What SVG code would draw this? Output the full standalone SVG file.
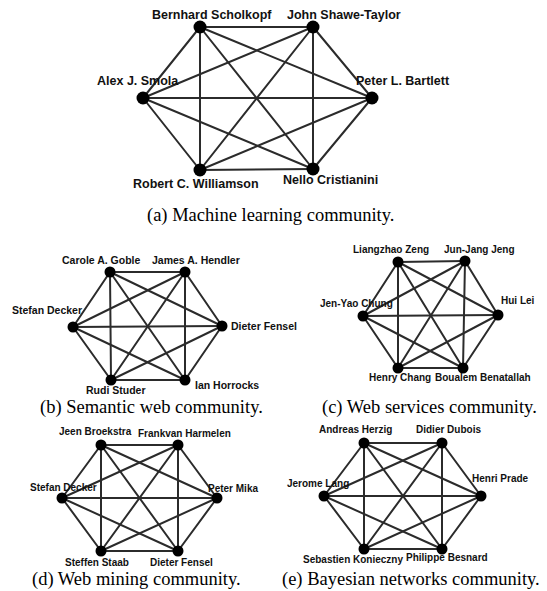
<svg xmlns="http://www.w3.org/2000/svg" width="547" height="591" viewBox="0 0 547 591">
<style>
.e line{stroke:#2b2b2b;stroke-width:2;stroke-linecap:round}
.n{fill:#000}
.lb{font-family:"Liberation Sans",Arial,sans-serif;font-weight:bold;fill:#111}
.la{font-size:12.5px}
.ls{font-size:10.5px}
.lt{font-size:10px}
.cap{font-family:"Liberation Serif","Times New Roman",serif;font-size:18.5px;fill:#000}
</style>
<rect width="547" height="591" fill="#fff"/>

<!-- Graph (a) -->
<g id="edges-a" class="e">
<line x1="200" y1="27" x2="313" y2="27"/>
<line x1="200" y1="27" x2="143" y2="98"/>
<line x1="200" y1="27" x2="372" y2="98"/>
<line x1="200" y1="27" x2="200" y2="170"/>
<line x1="200" y1="27" x2="313" y2="169"/>
<line x1="313" y1="27" x2="143" y2="98"/>
<line x1="313" y1="27" x2="372" y2="98"/>
<line x1="313" y1="27" x2="200" y2="170"/>
<line x1="313" y1="27" x2="313" y2="169"/>
<line x1="143" y1="98" x2="372" y2="98"/>
<line x1="143" y1="98" x2="200" y2="170"/>
<line x1="143" y1="98" x2="313" y2="169"/>
<line x1="372" y1="98" x2="200" y2="170"/>
<line x1="372" y1="98" x2="313" y2="169"/>
<line x1="200" y1="170" x2="313" y2="169"/>
</g>
<g id="a-scholkopf"><circle class="n" cx="200" cy="27" r="6.5"/><text class="lb la" x="152" y="19">Bernhard Scholkopf</text></g>
<g id="a-shawe-taylor"><circle class="n" cx="313" cy="27" r="6.5"/><text class="lb la" x="287" y="19">John Shawe-Taylor</text></g>
<g id="a-smola"><circle class="n" cx="143" cy="98" r="6.5"/><text class="lb la" x="97" y="85">Alex J. Smola</text></g>
<g id="a-bartlett"><circle class="n" cx="372" cy="98" r="6.5"/><text class="lb la" x="356" y="85">Peter L. Bartlett</text></g>
<g id="a-williamson"><circle class="n" cx="200" cy="170" r="6.5"/><text class="lb la" x="133" y="188">Robert C. Williamson</text></g>
<g id="a-cristianini"><circle class="n" cx="313" cy="169" r="6.5"/><text class="lb la" x="283" y="184">Nello Cristianini</text></g>
<text class="cap" x="147" y="221">(a)  Machine learning community.</text>

<!-- Graph (b) -->
<g id="edges-b" class="e">
<line x1="110" y1="272" x2="185" y2="272"/>
<line x1="110" y1="272" x2="73" y2="327"/>
<line x1="110" y1="272" x2="222" y2="326"/>
<line x1="110" y1="272" x2="111" y2="380"/>
<line x1="110" y1="272" x2="185" y2="380"/>
<line x1="185" y1="272" x2="73" y2="327"/>
<line x1="185" y1="272" x2="222" y2="326"/>
<line x1="185" y1="272" x2="111" y2="380"/>
<line x1="185" y1="272" x2="185" y2="380"/>
<line x1="73" y1="327" x2="222" y2="326"/>
<line x1="73" y1="327" x2="111" y2="380"/>
<line x1="73" y1="327" x2="185" y2="380"/>
<line x1="222" y1="326" x2="111" y2="380"/>
<line x1="222" y1="326" x2="185" y2="380"/>
<line x1="111" y1="380" x2="185" y2="380"/>
</g>
<g id="b-goble"><circle class="n" cx="110" cy="272" r="5.5"/><text class="lb ls" x="62" y="264">Carole A. Goble</text></g>
<g id="b-hendler"><circle class="n" cx="185" cy="272" r="5.5"/><text class="lb ls" x="152" y="264">James A. Hendler</text></g>
<g id="b-decker"><circle class="n" cx="73" cy="327" r="5.5"/><text class="lb ls" x="12" y="314">Stefan Decker</text></g>
<g id="b-fensel"><circle class="n" cx="222" cy="326" r="5.5"/><text class="lb ls" x="231" y="330">Dieter Fensel</text></g>
<g id="b-studer"><circle class="n" cx="111" cy="380" r="5.5"/><text class="lb ls" x="86" y="394">Rudi Studer</text></g>
<g id="b-horrocks"><circle class="n" cx="185" cy="380" r="5.5"/><text class="lb ls" x="195" y="389">Ian Horrocks</text></g>
<text class="cap" x="40" y="413">(b)  Semantic web community.</text>

<!-- Graph (c) -->
<g id="edges-c" class="e">
<line x1="398" y1="262" x2="465" y2="261"/>
<line x1="398" y1="262" x2="363" y2="316"/>
<line x1="398" y1="262" x2="498" y2="315"/>
<line x1="398" y1="262" x2="398" y2="368"/>
<line x1="398" y1="262" x2="463" y2="368"/>
<line x1="465" y1="261" x2="363" y2="316"/>
<line x1="465" y1="261" x2="498" y2="315"/>
<line x1="465" y1="261" x2="398" y2="368"/>
<line x1="465" y1="261" x2="463" y2="368"/>
<line x1="363" y1="316" x2="498" y2="315"/>
<line x1="363" y1="316" x2="398" y2="368"/>
<line x1="363" y1="316" x2="463" y2="368"/>
<line x1="498" y1="315" x2="398" y2="368"/>
<line x1="498" y1="315" x2="463" y2="368"/>
<line x1="398" y1="368" x2="463" y2="368"/>
</g>
<g id="c-zeng"><circle class="n" cx="398" cy="262" r="5.5"/><text class="lb lt" x="353" y="253">Liangzhao Zeng</text></g>
<g id="c-jeng"><circle class="n" cx="465" cy="261" r="5.5"/><text class="lb lt" x="444" y="253">Jun-Jang Jeng</text></g>
<g id="c-chung"><circle class="n" cx="363" cy="316" r="5.5"/><text class="lb lt" x="320" y="307">Jen-Yao Chung</text></g>
<g id="c-lei"><circle class="n" cx="498" cy="315" r="5.5"/><text class="lb lt" x="501" y="304">Hui Lei</text></g>
<g id="c-chang"><circle class="n" cx="398" cy="368" r="5.5"/><text class="lb lt" x="369" y="381">Henry Chang</text></g>
<g id="c-benatallah"><circle class="n" cx="463" cy="368" r="5.5"/><text class="lb lt" x="435" y="381">Boualem Benatallah</text></g>
<text class="cap" x="322" y="413">(c)  Web services community.</text>

<!-- Graph (d) -->
<g id="edges-d" class="e">
<line x1="101" y1="445" x2="178" y2="445"/>
<line x1="101" y1="445" x2="62" y2="498"/>
<line x1="101" y1="445" x2="217" y2="498"/>
<line x1="101" y1="445" x2="101" y2="551"/>
<line x1="101" y1="445" x2="178" y2="551"/>
<line x1="178" y1="445" x2="62" y2="498"/>
<line x1="178" y1="445" x2="217" y2="498"/>
<line x1="178" y1="445" x2="101" y2="551"/>
<line x1="178" y1="445" x2="178" y2="551"/>
<line x1="62" y1="498" x2="217" y2="498"/>
<line x1="62" y1="498" x2="101" y2="551"/>
<line x1="62" y1="498" x2="178" y2="551"/>
<line x1="217" y1="498" x2="101" y2="551"/>
<line x1="217" y1="498" x2="178" y2="551"/>
<line x1="101" y1="551" x2="178" y2="551"/>
</g>
<g id="d-broekstra"><circle class="n" cx="101" cy="445" r="5.5"/><text class="lb lt" x="59" y="435">Jeen Broekstra</text></g>
<g id="d-harmelen"><circle class="n" cx="178" cy="445" r="5.5"/><text class="lb lt" x="138" y="437">Frankvan Harmelen</text></g>
<g id="d-decker"><circle class="n" cx="62" cy="498" r="5.5"/><text class="lb lt" x="30" y="491">Stefan Decker</text></g>
<g id="d-mika"><circle class="n" cx="217" cy="498" r="5.5"/><text class="lb lt" x="208" y="492">Peter Mika</text></g>
<g id="d-staab"><circle class="n" cx="101" cy="551" r="5.5"/><text class="lb lt" x="65" y="566">Steffen Staab</text></g>
<g id="d-fensel"><circle class="n" cx="178" cy="551" r="5.5"/><text class="lb lt" x="150" y="566">Dieter Fensel</text></g>
<text class="cap" x="32" y="585">(d)  Web mining community.</text>

<!-- Graph (e) -->
<g id="edges-e" class="e">
<line x1="364" y1="443" x2="442" y2="443"/>
<line x1="364" y1="443" x2="324" y2="496"/>
<line x1="364" y1="443" x2="481" y2="496"/>
<line x1="364" y1="443" x2="364" y2="549"/>
<line x1="364" y1="443" x2="442" y2="549"/>
<line x1="442" y1="443" x2="324" y2="496"/>
<line x1="442" y1="443" x2="481" y2="496"/>
<line x1="442" y1="443" x2="364" y2="549"/>
<line x1="442" y1="443" x2="442" y2="549"/>
<line x1="324" y1="496" x2="481" y2="496"/>
<line x1="324" y1="496" x2="364" y2="549"/>
<line x1="324" y1="496" x2="442" y2="549"/>
<line x1="481" y1="496" x2="364" y2="549"/>
<line x1="481" y1="496" x2="442" y2="549"/>
<line x1="364" y1="549" x2="442" y2="549"/>
</g>
<g id="e-herzig"><circle class="n" cx="364" cy="443" r="5.5"/><text class="lb lt" x="319" y="433">Andreas Herzig</text></g>
<g id="e-dubois"><circle class="n" cx="442" cy="443" r="5.5"/><text class="lb lt" x="416" y="433">Didier Dubois</text></g>
<g id="e-lang"><circle class="n" cx="324" cy="496" r="5.5"/><text class="lb lt" x="287" y="487">Jerome Lang</text></g>
<g id="e-prade"><circle class="n" cx="481" cy="496" r="5.5"/><text class="lb lt" x="472" y="482">Henri Prade</text></g>
<g id="e-konieczny"><circle class="n" cx="364" cy="549" r="5.5"/><text class="lb lt" x="303" y="563">Sebastien Konieczny</text></g>
<g id="e-besnard"><circle class="n" cx="442" cy="549" r="5.5"/><text class="lb lt" x="406" y="561">Philippe Besnard</text></g>
<text class="cap" x="282" y="585">(e)  Bayesian networks community.</text>
</svg>
